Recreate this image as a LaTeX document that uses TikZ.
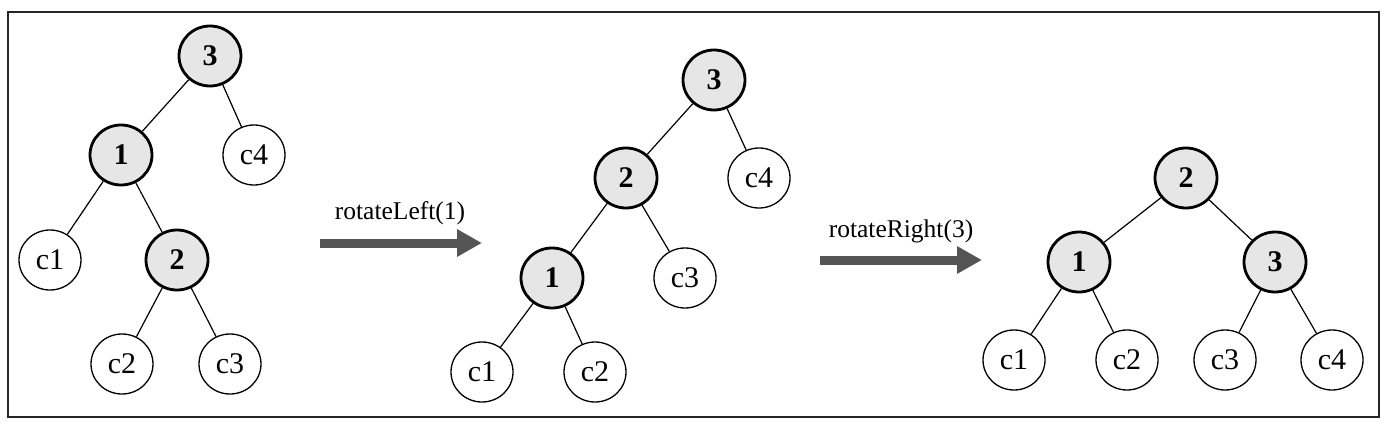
\documentclass[tikz,border=0pt]{standalone}
\usepackage{fontspec}
\setmainfont{Liberation Serif}
\usetikzlibrary{positioning,shapes.geometric,arrows.meta}

\definecolor{keyfill}{HTML}{E6E6E6}
\definecolor{movegray}{HTML}{555555}

\tikzset{
    keynode/.style={ellipse, draw, line width=2.8pt, fill=keyfill, minimum width=62pt, minimum height=60pt, inner sep=0pt, font=\fontsize{30}{34}\selectfont\bfseries},
    subnode/.style={ellipse, draw, line width=1.3pt, fill=white, minimum width=62pt, minimum height=60pt, inner sep=0pt, font=\fontsize{30}{34}\selectfont},
    move/.style={draw=movegray, line width=9pt, -{Triangle[length=25pt,width=26pt]}},
    movelabel/.style={anchor=base, inner sep=0pt, font=\fontsize{25.5}{30}\selectfont},
}

\begin{document}
\begin{tikzpicture}[x=1pt, y=-1pt, on grid, line width=1.2pt]
    \useasboundingbox (0,0) rectangle (1392,433);
    \draw[line width=1.5pt, draw=black!85] (8,12) rectangle (1379,417);

    % before: 3 at the top
    \node [keynode] at (210,56) (a3) {3};
    \node [keynode, below left=99pt and 89pt of a3] (a1) {1};
    \node [subnode, below right=99pt and 44pt of a3] (ac4) {c4};
    \node [subnode, below left=105pt and 71pt of a1] (ac1) {c1};
    \node [keynode, below right=105pt and 56pt of a1] (a2) {2};
    \node [subnode, below left=104pt and 55pt of a2] (ac2) {c2};
    \node [subnode, below right=104pt and 53pt of a2] (ac3) {c3};

    % after rotateLeft(1)
    \node [keynode] at (714,80) (b3) {3};
    \node [keynode, below left=98pt and 88pt of b3] (b2) {2};
    \node [subnode, below right=98pt and 45pt of b3] (bc4) {c4};
    \node [keynode, below left=100pt and 74pt of b2] (b1) {1};
    \node [subnode, below right=100pt and 59pt of b2] (bc3) {c3};
    \node [subnode, below left=94pt and 70pt of b1] (bc1) {c1};
    \node [subnode, below right=94pt and 43pt of b1] (bc2) {c2};

    % after rotateRight(3)
    \node [keynode] at (1186,178) (c2) {2};
    \node [keynode, below left=84pt and 107pt of c2] (c1) {1};
    \node [keynode, below right=84pt and 89pt of c2] (c3) {3};
    \node [subnode, below left=98pt and 65pt of c1] (cc1) {c1};
    \node [subnode, below right=98pt and 48pt of c1] (cc2) {c2};
    \node [subnode, below left=98pt and 50pt of c3] (cc3) {c3};
    \node [subnode, below right=98pt and 57pt of c3] (cc4) {c4};

    \draw (a3) -- (a1)  (a3) -- (ac4)  (a1) -- (ac1)  (a1) -- (a2)  (a2) -- (ac2)  (a2) -- (ac3);
    \draw (b3) -- (b2)  (b3) -- (bc4)  (b2) -- (b1)  (b2) -- (bc3)  (b1) -- (bc1)  (b1) -- (bc2);
    \draw (c2) -- (c1)  (c2) -- (c3)  (c1) -- (cc1)  (c1) -- (cc2)  (c3) -- (cc3)  (c3) -- (cc4);

    % the two rotations
    \coordinate (l0) at (320,243);
    \coordinate (l1) at (482,243);
    \coordinate (r0) at (820,260);
    \coordinate (r1) at (982,260);
    \draw [move] (l0) -- (l1);
    \draw [move] (r0) -- (r1);
    \node [movelabel] at (400,219) (lleft) {rotateLeft(1)};
    \node [movelabel] at (901,237) (lright) {rotateRight(3)};
\end{tikzpicture}
\end{document}
